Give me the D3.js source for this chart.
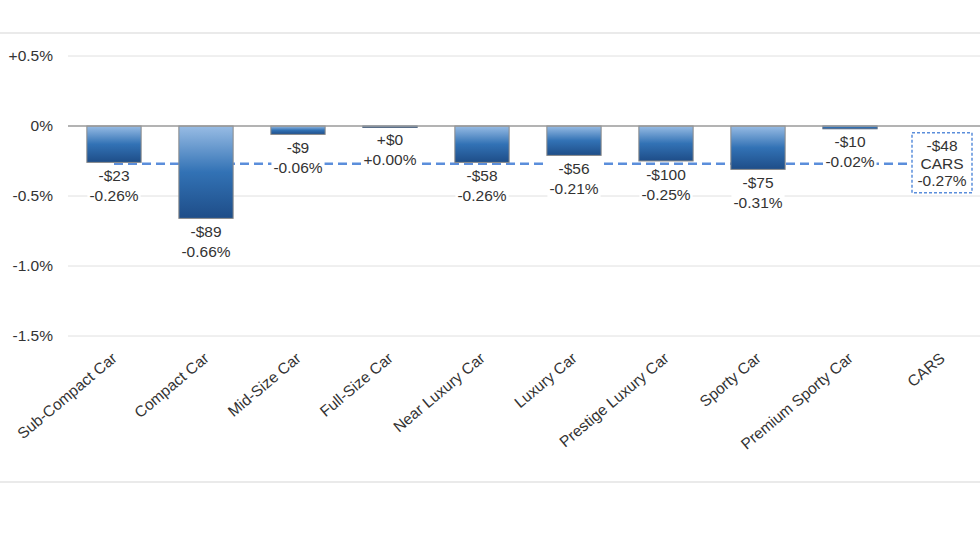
<!DOCTYPE html>
<html>
<head>
<meta charset="utf-8">
<script src="https://cdn.jsdelivr.net/npm/d3@7"></script>
<style>
  body { margin: 0; background: #fff; }
  svg text { font-family: "Liberation Sans", Arial, sans-serif; fill: #333; }
</style>
</head>
<body>
<svg width="980" height="552"></svg>
<script>
// data
let categories = ["Sub-Compact Car", "Compact Car", "Mid-Size Car", "Full-Size Car", "Near Luxury Car",
    "Luxury Car", "Prestige Luxury Car", "Sporty Car", "Premium Sporty Car", "CARS"];
let dollarChange = [-23, -89, -9, 0, -58, -56, -100, -75, -10];
let pctChange = [-0.26, -0.66, -0.06, 0.00, -0.26, -0.21, -0.25, -0.31, -0.02];
let totalDollar = -48;
let totalPct = -0.27;
let tickValues = [0.5, 0, -0.5, -1.0, -1.5];
let tickLabels = ["+0.5%", "0%", "-0.5%", "-1.0%", "-1.5%"];

let svg = d3.select("svg"),
    width = +svg.attr("width"),
    height = +svg.attr("height");

let x = d3.scaleBand()
    .domain(categories)
    .range([68, 988])
    .paddingInner(0.41)
    .paddingOuter(0.205);

let y = d3.scaleLinear()
    .domain([0.5, -1.5])
    .range([56, 336]);

// gradient voor de bars
let defs = svg.append("defs");
let grad = defs.append("linearGradient")
    .attr("id", "barGrad")
    .attr("x1", 0).attr("y1", 0).attr("x2", 0).attr("y2", 1);
grad.append("stop").attr("offset", "0%").attr("stop-color", "#98bce4");
grad.append("stop").attr("offset", "50%").attr("stop-color", "#3272b5");
grad.append("stop").attr("offset", "100%").attr("stop-color", "#1e4d88");

// kader lijnen boven en onder
svg.append("line").attr("x1", 0).attr("x2", width).attr("y1", 33).attr("y2", 33)
    .attr("stroke", "#e3e3e3").attr("stroke-width", 1.5);
svg.append("line").attr("x1", 0).attr("x2", width).attr("y1", 482).attr("y2", 482)
    .attr("stroke", "#e3e3e3").attr("stroke-width", 1.5);

// grid
svg.append("g")
    .selectAll("line")
    .data(tickValues.filter(d => d !== 0))
    .enter().append("line")
    .attr("x1", 68).attr("x2", width)
    .attr("y1", d => y(d)).attr("y2", d => y(d))
    .attr("stroke", "#e0e0e0");

// y-as labels
let yAxis = svg.append("g")
    .attr("transform", "translate(59,0)")
    .call(d3.axisLeft(y).tickValues(tickValues).tickSize(0).tickPadding(6)
        .tickFormat((d, i) => tickLabels[i]));
yAxis.select(".domain").remove();
yAxis.selectAll("text")
    .style("font-family", "'Liberation Sans', Arial, sans-serif")
    .style("font-size", "15.5px")
    .attr("fill", "#333");

// gemiddelde lijn (totaal)
svg.append("line")
    .attr("x1", x(categories[0]) + x.bandwidth() / 2)
    .attr("x2", x("CARS"))
    .attr("y1", y(totalPct)).attr("y2", y(totalPct))
    .attr("stroke", "#5b8edb")
    .attr("stroke-width", 2.5)
    .attr("stroke-dasharray", "9,5");

let barData = pctChange.map((p, i) => ({cat: categories[i], pct: p, dollar: dollarChange[i]}));

// bars
svg.append("g")
    .selectAll("rect")
    .data(barData)
    .enter().append("rect")
    .attr("x", d => x(d.cat))
    .attr("width", x.bandwidth())
    .attr("y", y(0))
    .attr("height", d => Math.max(y(d.pct) - y(0), 1.5))
    .attr("fill", "url(#barGrad)")
    .attr("stroke", d => d.pct > -0.05 ? "#5a6f8a" : "#8a8a8a")
    .attr("stroke-width", 1);

// nul lijn
svg.append("line").attr("x1", 68).attr("x2", width)
    .attr("y1", y(0)).attr("y2", y(0))
    .attr("stroke", "#9a9a9a").attr("stroke-width", 1.5);

let fmtDollar = d => (d >= 0 ? "+$" : "-$") + Math.abs(d);
let fmtPct = d => (d >= 0 ? "+" : "-") + Math.abs(d).toFixed(2) + "%";

// labels onder de bars
let labels = svg.append("g")
    .selectAll("g")
    .data(barData)
    .enter().append("g")
    .attr("transform", d => "translate(" + (x(d.cat) + x.bandwidth() / 2) + "," + y(d.pct) + ")");

labels.append("rect")
    .attr("class", "bg")
    .attr("fill", "#fff");

labels.append("text")
    .attr("text-anchor", "middle")
    .attr("y", 18.5)
    .style("font-size", "15.5px")
    .text(d => fmtDollar(d.dollar));

labels.append("text")
    .attr("text-anchor", "middle")
    .attr("y", 38.5)
    .style("font-size", "15.5px")
    .text(d => fmtPct(d.pct));

labels.each(function () {
    let g = d3.select(this);
    let w = 0;
    g.selectAll("text").each(function () { w = Math.max(w, this.getComputedTextLength()); });
    g.select("rect.bg")
        .attr("x", -w / 2 - 2).attr("width", w + 4)
        .attr("y", 5).attr("height", 38);
});

// totaal box voor CARS
let cx = x("CARS") + x.bandwidth() / 2;
let box = svg.append("g").attr("transform", "translate(" + cx + "," + y(totalPct) + ")");
box.append("rect")
    .attr("x", -30).attr("width", 60)
    .attr("y", -31).attr("height", 60)
    .attr("fill", "#fff")
    .attr("stroke", "#5b8edb")
    .attr("stroke-width", 1.5)
    .attr("stroke-dasharray", "3,2");
[fmtDollar(totalDollar), "CARS", fmtPct(totalPct)].forEach((t, i) => {
    box.append("text")
        .attr("text-anchor", "middle")
        .attr("y", -12.5 + i * 17.5)
        .style("font-size", "15.5px")
        .text(t);
});

// categorie labels schuin
svg.append("g")
    .selectAll("text")
    .data(categories)
    .enter().append("text")
    .attr("text-anchor", "end")
    .style("font-size", "15.5px")
    .attr("transform", d => "translate(" + (x(d) + x.bandwidth() / 2 + 4) + ",360)rotate(-40)")
    .text(d => d);
</script>
</body>
</html>
